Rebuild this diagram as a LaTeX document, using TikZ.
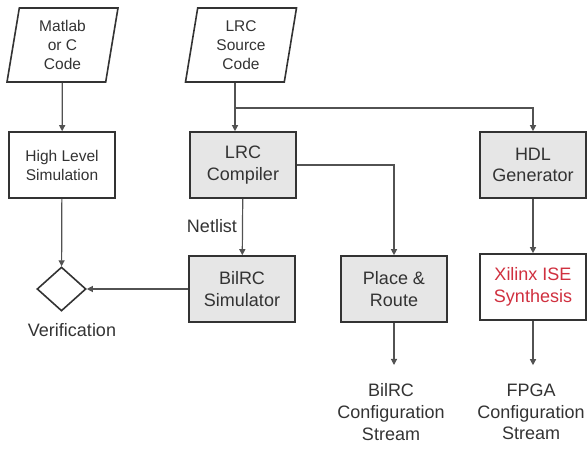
\documentclass[tikz,border=0pt]{standalone}
\usepackage{fontspec}
\setmainfont{Liberation Sans}
\usetikzlibrary{shapes.geometric,arrows.meta}
\definecolor{boxgray}{HTML}{E6E6E6}
\definecolor{linegray}{HTML}{333333}
\definecolor{xred}{HTML}{D0303F}
\begin{document}
\begin{tikzpicture}
[x=1pt,y=-1pt,line width=1.6pt,
 every node/.style={text=linegray,align=center,inner sep=0pt},
 small/.style={font=\fontsize{15.5}{19}\selectfont},
 big/.style={font=\fontsize{18}{21.6}\selectfont},
 io/.style={draw=linegray,small,shape=trapezium,trapezium left angle=76,trapezium right angle=104,
  trapezium stretches body,minimum width=111pt,minimum height=74pt},
 plainbox/.style={draw=linegray,fill=white,minimum width=106pt,minimum height=66pt},
 toolbox/.style={draw=linegray,fill=boxgray,big,minimum width=106pt,minimum height=66pt},
 flow/.style={draw=linegray!85,line width=1.2pt,-{Triangle[length=6pt,width=6pt]}}]
\useasboundingbox (0,0) rectangle (588,454);
\node[io] (matlab) at (62.5,45) {Matlab\\or C\\Code};
\node[io] (src) at (241,45) {LRC\\Source\\Code};
\node[plainbox,small] (hls) at (62,165) {High Level\\Simulation};
\node[toolbox] (comp) at (243,165) {LRC\\Compiler};
\node[toolbox] (hdl) at (533,165) {HDL\\Generator};
\node[toolbox] (sim) at (242,289) {BilRC\\Simulator};
\node[toolbox] (pr) at (394,289) {Place \&\\Route};
\node[plainbox,big,text=xred] (xise) at (533,287) {Xilinx ISE\\Synthesis};
\node[draw=linegray,shape=diamond,minimum width=49pt,minimum height=44pt] (verif) at (61.5,289) {};
\node[big] (veriflbl) at (72,330) {Verification};
\node[big] (netlist) at (212,226) {Netlist};
\node[big] (bcs) at (391,412) {BilRC\\Configuration\\Stream};
\node[big] (fcs) at (531,412) {FPGA\\Configuration\\Stream};
\coordinate (fork) at (235,108);
\draw[flow] (matlab) -- (hls);
\draw[flow] (hls) -- (verif);
\draw[flow] (sim) -- (verif);
\draw[flow] (comp) -- (sim);
\draw[flow] (comp.east) -| (pr.north);
\draw[flow] (hdl) -- (xise);
\draw[flow,shorten >=18pt] (pr) -- (pr |- bcs.north);
\draw[flow,shorten >=18pt] (xise) -- (xise |- fcs.north);
\draw[draw=linegray!85,line width=1.2pt] (src.south -| fork) -- (fork);
\draw[flow] (fork) -- (comp.north -| fork);
\draw[flow] (fork) -| (hdl.north);
\end{tikzpicture}
\end{document}
